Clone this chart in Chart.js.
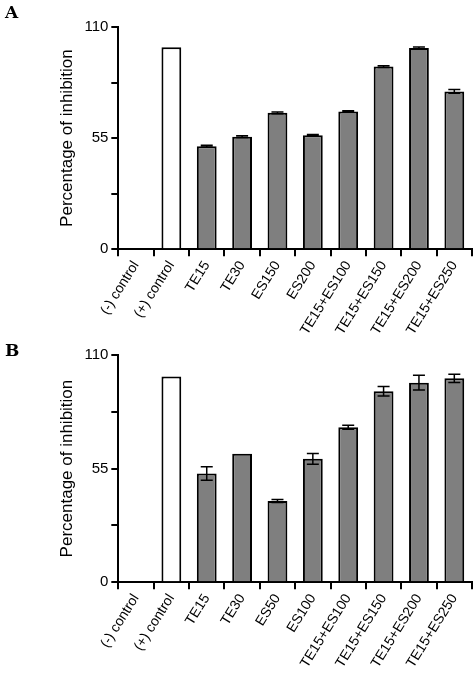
<!DOCTYPE html>
<html>
<head>
<meta charset="utf-8">
<script src="https://cdn.jsdelivr.net/npm/chart.js@4.4.0/dist/chart.umd.min.js"></script>
<style>
  body { margin: 0; background: #fff; width: 474px; height: 679px; position: relative; font-family: "Liberation Sans", Arial, sans-serif; }
  .panel { position: absolute; left: 0; width: 474px; }
  .letter { position: absolute; left: 5px; font-family: "DejaVu Serif", "Liberation Serif", serif; font-weight: bold; font-size: 17px; }
</style>
</head>
<body>
<div class="panel" style="top:0;height:340px"><canvas id="chartA"></canvas></div>
<div class="panel" style="top:340px;height:339px"><canvas id="chartB"></canvas></div>
<div class="letter" style="top:2px">A</div>
<div class="letter" style="top:340px">B</div>
<script>
// panel A
const labelsA = ['(-) control', '(+) control', 'TE15', 'TE30', 'ES150', 'ES200', 'TE15+ES100', 'TE15+ES150', 'TE15+ES200', 'TE15+ES250'];
const valuesA = [0, 100, 51, 55.7, 67.5, 56.4, 68.2, 90.4, 99.6, 78.1];
const errorsA = [0, 0, 0.4, 0.4, 0.4, 0.4, 0.3, 0.4, 0.5, 0.9];

// panel B
const labelsB = ['(-) control', '(+) control', 'TE15', 'TE30', 'ES50', 'ES100', 'TE15+ES100', 'TE15+ES150', 'TE15+ES200', 'TE15+ES250'];
const valuesB = [0, 99.6, 52.6, 62.2, 39.3, 59.7, 75, 92.5, 96.6, 98.7];
const errorsB = [0, 0, 3.3, 0, 0.7, 2.6, 1, 2.3, 3.6, 2];

const yTicks = [0, 55, 110];

// draws mean ± error whiskers on top of each bar
const errorBars = {
  id: 'errorBars',
  afterDatasetsDraw(chart, args, opts) {
    const { ctx } = chart;
    const y = chart.scales.y;
    const meta = chart.getDatasetMeta(0);
    ctx.save();
    ctx.strokeStyle = '#000';
    ctx.lineWidth = 1.5;
    meta.data.forEach((bar, i) => {
      const e = opts.errors[i];
      if (!e) return;
      const v = chart.data.datasets[0].data[i];
      const top = y.getPixelForValue(v + e);
      const bot = y.getPixelForValue(v - e);
      const cap = 6;
      ctx.beginPath();
      ctx.moveTo(bar.x, top); ctx.lineTo(bar.x, bot);
      ctx.moveTo(bar.x - cap, top); ctx.lineTo(bar.x + cap, top);
      ctx.moveTo(bar.x - cap, bot); ctx.lineTo(bar.x + cap, bot);
      ctx.stroke();
    });
    ctx.restore();
  }
};

function makeChart(id, labels, values, errors, pad) {
  new Chart(document.getElementById(id), {
    type: 'bar',
    data: {
      labels: labels,
      datasets: [{
        data: values,
        backgroundColor: labels.map((l, i) => i === 1 ? '#ffffff' : '#7f7f7f'),
        borderColor: '#000',
        borderWidth: 2,
        categoryPercentage: 1,
        barPercentage: 0.56
      }]
    },
    options: {
      responsive: true,
      maintainAspectRatio: false,
      animation: false,
      layout: { padding: pad },
      plugins: {
        legend: { display: false },
        tooltip: { enabled: false },
        errorBars: { errors: errors }
      },
      scales: {
        x: {
          border: { color: '#000', width: 2 },
          grid: { drawOnChartArea: false, color: '#000', lineWidth: 2, tickLength: 7 },
          ticks: { color: '#000', font: { size: 14, family: 'Liberation Sans' }, minRotation: 58, maxRotation: 58, padding: 2 }
        },
        y: {
          min: 0,
          max: 110,
          border: { color: '#000', width: 2 },
          grid: { drawOnChartArea: false, color: '#000', lineWidth: 2, tickLength: 7 },
          afterBuildTicks(scale) {
            scale.ticks = [0, 27.5, 55, 82.5, 110].map(v => ({ value: v }));
          },
          ticks: {
            color: '#000',
            font: { size: 15, family: 'Liberation Sans' },
            padding: 3,
            callback: v => yTicks.includes(v) ? v : ''
          },
          title: { display: true, text: 'Percentage of inhibition', color: '#000', font: { size: 17, family: 'Liberation Sans' }, padding: 4 }
        }
      }
    },
    plugins: [errorBars]
  });
}

makeChart('chartA', labelsA, valuesA, errorsA, { left: 53, right: 2, top: 27, bottom: 0 });
makeChart('chartB', labelsB, valuesB, errorsB, { left: 53, right: 2, top: 15, bottom: 6 });
</script>
</body>
</html>
